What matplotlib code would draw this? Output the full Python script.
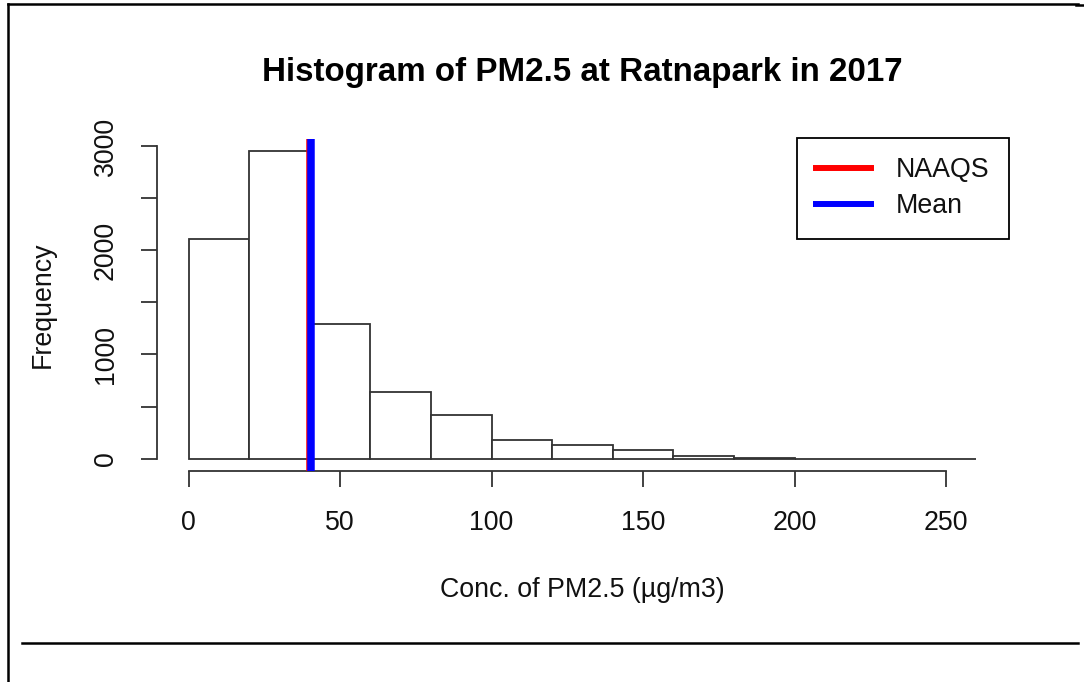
# -*- coding: utf-8 -*-

"""Histogram of PM2.5 at Ratnapark, R base-graphics look."""

import matplotlib
matplotlib.use("Agg")
import matplotlib.pyplot as plt
import numpy as np
from matplotlib.lines import Line2D

# data
bin_edges = [0, 20, 40, 60, 80, 100, 120, 140, 160, 180, 200, 220, 240, 260]
counts = [2106, 2949, 1295, 644, 416, 180, 135, 80, 22, 2, 1, 1, 1]
naaqs = 40
mean_conc = 40.4
x_ticks = [0, 50, 100, 150, 200, 250]
y_ticks = [0, 1000, 2000, 3000]
y_minor = [500, 1500, 2500]

title = "Histogram of PM2.5 at Ratnapark in 2017"
x_label = "Conc. of PM2.5 (\u00b5g/m3)"
y_label = "Frequency"

plt.rcParams['font.family'] = ['Liberation Sans', 'DejaVu Sans']

W, H = 1084, 682
FS = 19.3
fig = plt.figure(figsize=(W / 100, H / 100), dpi=100)
fig.patch.set_facecolor('white')

# plot region in pixels (R style, 4% padding around data)
left, right, top, bottom = 157, 1008, 139, 471
ax = fig.add_axes([left / W, 1 - bottom / H, (right - left) / W, (bottom - top) / H])

edges = np.array(bin_edges)
ax.bar(edges[:-1], counts, width=np.diff(edges), align='edge',
       color='white', edgecolor='#333333', linewidth=1.3, zorder=2)

ax.axvline(naaqs, color='red', linewidth=5.4, zorder=3)
ax.axvline(mean_conc, color='blue', linewidth=5.4, zorder=4)

xr = edges[-1] - edges[0]
ax.set_xlim(edges[0] - 0.04 * xr, edges[-1] + 0.04 * xr)
ymax = max(counts)
ax.set_ylim(-0.04 * ymax, 1.04 * ymax)

# R-like axes
for side in ('top', 'right'):
    ax.spines[side].set_visible(False)
for side in ('left', 'bottom'):
    ax.spines[side].set_color('#333333')
    ax.spines[side].set_linewidth(1.3)
ax.spines['bottom'].set_bounds(x_ticks[0], x_ticks[-1])
ax.spines['left'].set_bounds(y_ticks[0], y_ticks[-1])

ax.set_xticks(x_ticks)
ax.set_yticks(y_ticks)
ax.set_yticks(y_minor, minor=True)
ax.tick_params(axis='both', which='both', direction='out', length=11.5,
               width=1.3, color='#333333', labelsize=FS, labelcolor='#111111')
ax.tick_params(axis='x', pad=16.5)
ax.tick_params(axis='y', pad=16)
ax.tick_params(axis='y', which='minor', labelleft=False)
plt.setp(ax.get_yticklabels(), rotation=90, va='center')

fig.text((left + right) / 2 / W, 1 - 73 / H, title, ha='center', va='center',
         fontsize=23.9, fontweight='bold', color='black')
fig.text((left + right) / 2 / W, 1 - 590 / H, x_label, ha='center', va='center',
         fontsize=FS, color='#111111')
fig.text(43 / W, 1 - 305 / H, y_label, ha='center', va='center', rotation=90,
         fontsize=FS, color='#111111')

handles = [Line2D([], [], color='red', linewidth=4.3),
           Line2D([], [], color='blue', linewidth=4.3)]
leg = ax.legend(handles, ['NAAQS', 'Mean'], loc='upper right',
                bbox_to_anchor=(1009 / W, 1 - 138 / H), bbox_transform=fig.transFigure,
                borderaxespad=0, fontsize=FS, handlelength=2.05, handletextpad=0.93,
                borderpad=0.72, labelspacing=0.37, fancybox=False, framealpha=1,
                edgecolor='black')
leg.get_frame().set_linewidth(1.3)
for t in leg.get_texts():
    t.set_color('#111111')

# page frame lines around the chart
frame = [
    ((8, 8), (4, H)),
    ((8, 1078), (3.7, 3.7)),
    ((1076, W), (4.5, 4.5)),
    ((22, 1078), (643, 643)),
]
for xs, ys in frame:
    fig.add_artist(Line2D([x / W for x in xs], [1 - y / H for y in ys],
                          transform=fig.transFigure, color='black', linewidth=1.8))

fig.savefig('out.png', dpi=100)
